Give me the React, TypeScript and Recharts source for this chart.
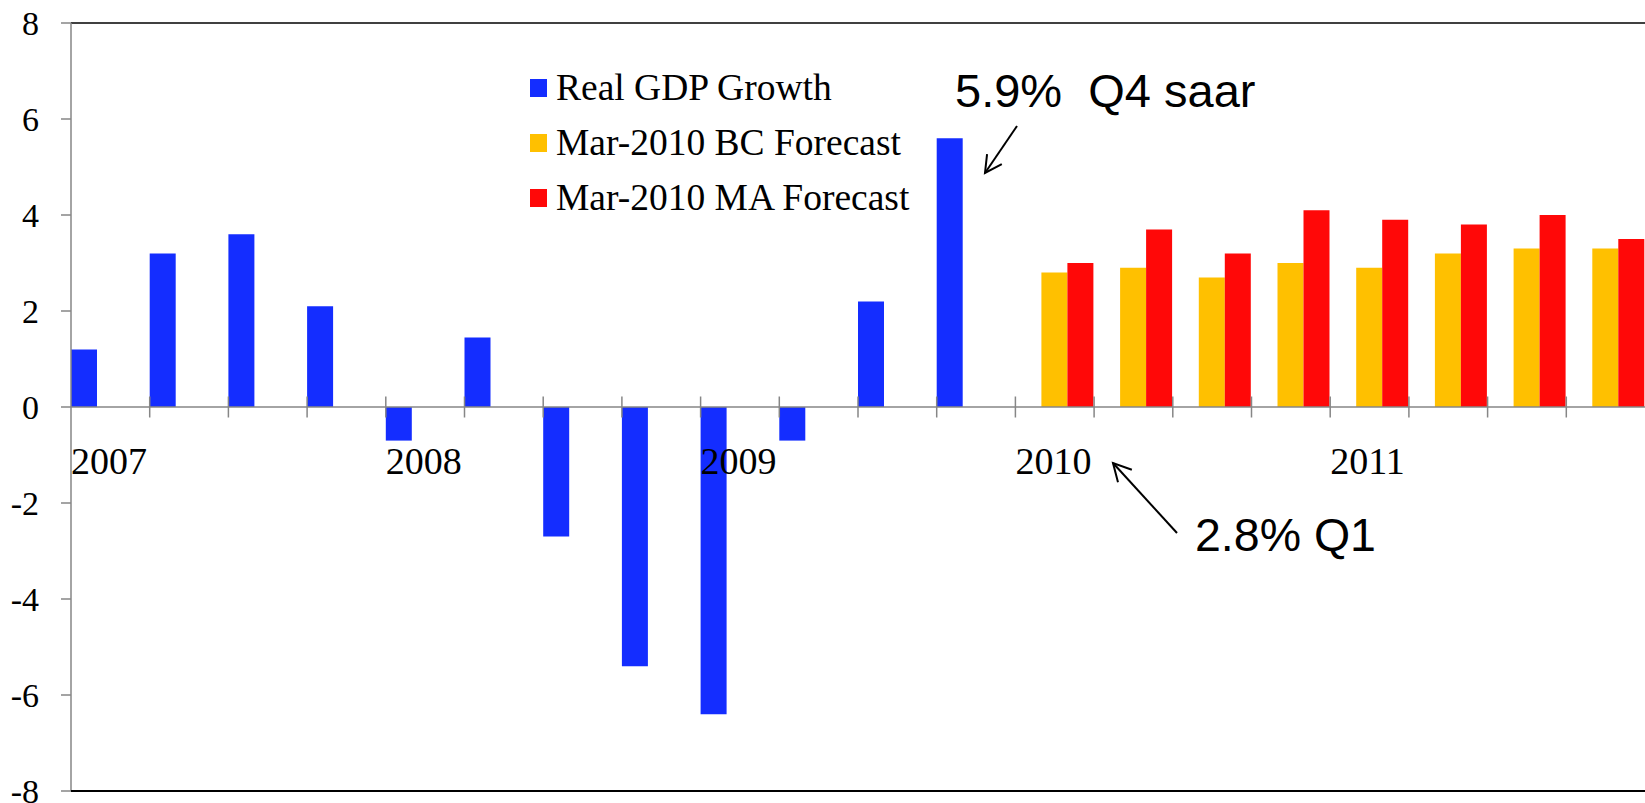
import { BarChart, Bar, XAxis, YAxis, ReferenceLine, Legend } from 'recharts'

const quarters = [
  '2007Q1', '2007Q2', '2007Q3', '2007Q4',
  '2008Q1', '2008Q2', '2008Q3', '2008Q4',
  '2009Q1', '2009Q2', '2009Q3', '2009Q4',
  '2010Q1', '2010Q2', '2010Q3', '2010Q4',
  '2011Q1', '2011Q2', '2011Q3', '2011Q4',
]
const yearLabels = quarters.map((q) => (q.endsWith('Q1') ? q.slice(0, 4) : ''))
const realGdp = [1.2, 3.2, 3.6, 2.1, -0.7, 1.45, -2.7, -5.4, -6.4, -0.7, 2.2, 5.6, null, null, null, null, null, null, null, null]
const bcForecast = [null, null, null, null, null, null, null, null, null, null, null, null, 2.8, 2.9, 2.7, 3.0, 2.9, 3.2, 3.3, 3.3]
const maForecast = [null, null, null, null, null, null, null, null, null, null, null, null, 3.0, 3.7, 3.2, 4.1, 3.9, 3.8, 4.0, 3.5]
const yTicks = [-8, -6, -4, -2, 0, 2, 4, 6, 8]
const seriesNames = ['Real GDP Growth', 'Mar-2010 BC Forecast', 'Mar-2010 MA Forecast']

const data = quarters.map((q, i) => ({
  quarter: q,
  gdp: realGdp[i],
  bc: bcForecast[i],
  ma: maForecast[i],
}))

const W = 1645
const H = 803
const TOP = 23
const AXIS_W = 71
const X_AXIS_H = 12
const PLOT_H = H - TOP - X_AXIS_H
const BAND = (W - AXIS_W) / quarters.length
const Y_MIN = -8
const Y_MAX = 8
const ZERO_Y = TOP + (PLOT_H * (Y_MAX - 0)) / (Y_MAX - Y_MIN)

const serif = '"Liberation Serif", "Times New Roman", serif'
const sans = '"Liberation Sans", Arial, sans-serif'

function YearTick(props: any) {
  const { x, index } = props
  const left = x - BAND / 2
  const label = yearLabels[index]
  return (
    <g>
      {index > 0 && (
        <line x1={left} x2={left} y1={ZERO_Y - 10.5} y2={ZERO_Y + 10.5} stroke="#868686" strokeWidth={1.5} />
      )}
      {label && (
        <text x={left} y={ZERO_Y + 67} fontFamily={serif} fontSize={38} fill="#000">
          {label}
        </text>
      )}
    </g>
  )
}

function renderLegend(props: any) {
  const items = [...(props.payload || [])].sort(
    (a: any, b: any) => seriesNames.indexOf(a.value) - seriesNames.indexOf(b.value)
  )
  return (
    <div style={{ fontFamily: serif, fontSize: 37.5, lineHeight: '55px', color: '#000', whiteSpace: 'nowrap' }}>
      {items.map((entry: any) => (
        <div key={entry.value} style={{ display: 'flex', alignItems: 'center' }}>
          <span style={{ display: 'inline-block', width: 17, height: 18, background: entry.color, marginRight: 9 }} />
          <span>{entry.value}</span>
        </div>
      ))}
    </div>
  )
}

function Arrow({ x1, y1, x2, y2, head }: { x1: number; y1: number; x2: number; y2: number; head: number }) {
  // line from (x1,y1) to the tip at (x2,y2), open head
  const ang = Math.atan2(y1 - y2, x1 - x2)
  const spread = (28 * Math.PI) / 180
  const w1 = [x2 + head * Math.cos(ang + spread), y2 + head * Math.sin(ang + spread)]
  const w2 = [x2 + head * Math.cos(ang - spread), y2 + head * Math.sin(ang - spread)]
  return (
    <g stroke="#000" strokeWidth={2} fill="none">
      <line x1={x1} y1={y1} x2={x2} y2={y2} />
      <polyline points={`${w1[0]},${w1[1]} ${x2},${y2} ${w2[0]},${w2[1]}`} />
    </g>
  )
}

export default function App() {
  return (
    <div style={{ position: 'absolute', left: 0, top: 0, width: W, height: H, background: '#fff' }}>
      <BarChart
        width={W}
        height={H}
        data={data}
        margin={{ top: TOP, right: 0, bottom: 0, left: 0 }}
        barCategoryGap={0}
        barGap={0}
      >
        <YAxis
          domain={[Y_MIN, Y_MAX]}
          ticks={yTicks}
          interval={0}
          width={AXIS_W}
          allowDataOverflow
          axisLine={{ stroke: '#868686', strokeWidth: 1.5 }}
          tickLine={{ stroke: '#868686', strokeWidth: 1.5 }}
          tickSize={10}
          tickMargin={22}
          tick={{ fontFamily: serif, fontSize: 34, fill: '#000' }}
        />
        <Legend
          layout="vertical"
          align="center"
          verticalAlign="middle"
          content={renderLegend}
          wrapperStyle={{ left: 530, top: 60, width: 'auto', height: 'auto' }}
        />
        <Bar dataKey="gdp" name={seriesNames[0]} fill="#142dff" isAnimationActive={false} />
        <Bar dataKey="bc" name={seriesNames[1]} fill="#ffc000" isAnimationActive={false} />
        <Bar dataKey="ma" name={seriesNames[2]} fill="#ff0808" isAnimationActive={false} />
        <ReferenceLine y={0} stroke="#868686" strokeWidth={1.5} />
        <ReferenceLine y={Y_MAX} stroke="#000" strokeWidth={1.5} />
        <XAxis
          dataKey="quarter"
          height={X_AXIS_H}
          interval={0}
          axisLine={{ stroke: '#000', strokeWidth: 2 }}
          tickLine={false}
          tick={<YearTick />}
        />
      </BarChart>
      <svg width={W} height={H} style={{ position: 'absolute', left: 0, top: 0, pointerEvents: 'none' }}>
        <text x={955} y={107} fontFamily={sans} fontSize={47} fill="#000" style={{ whiteSpace: 'pre' }}>
          {'5.9%  Q4 saar'}
        </text>
        <Arrow x1={1017} y1={126} x2={985} y2={173} head={19} />
        <text x={1195} y={551} fontFamily={sans} fontSize={46.5} fill="#000">
          2.8% Q1
        </text>
        <Arrow x1={1177} y1={533} x2={1113} y2={463} head={20} />
      </svg>
    </div>
  )
}
